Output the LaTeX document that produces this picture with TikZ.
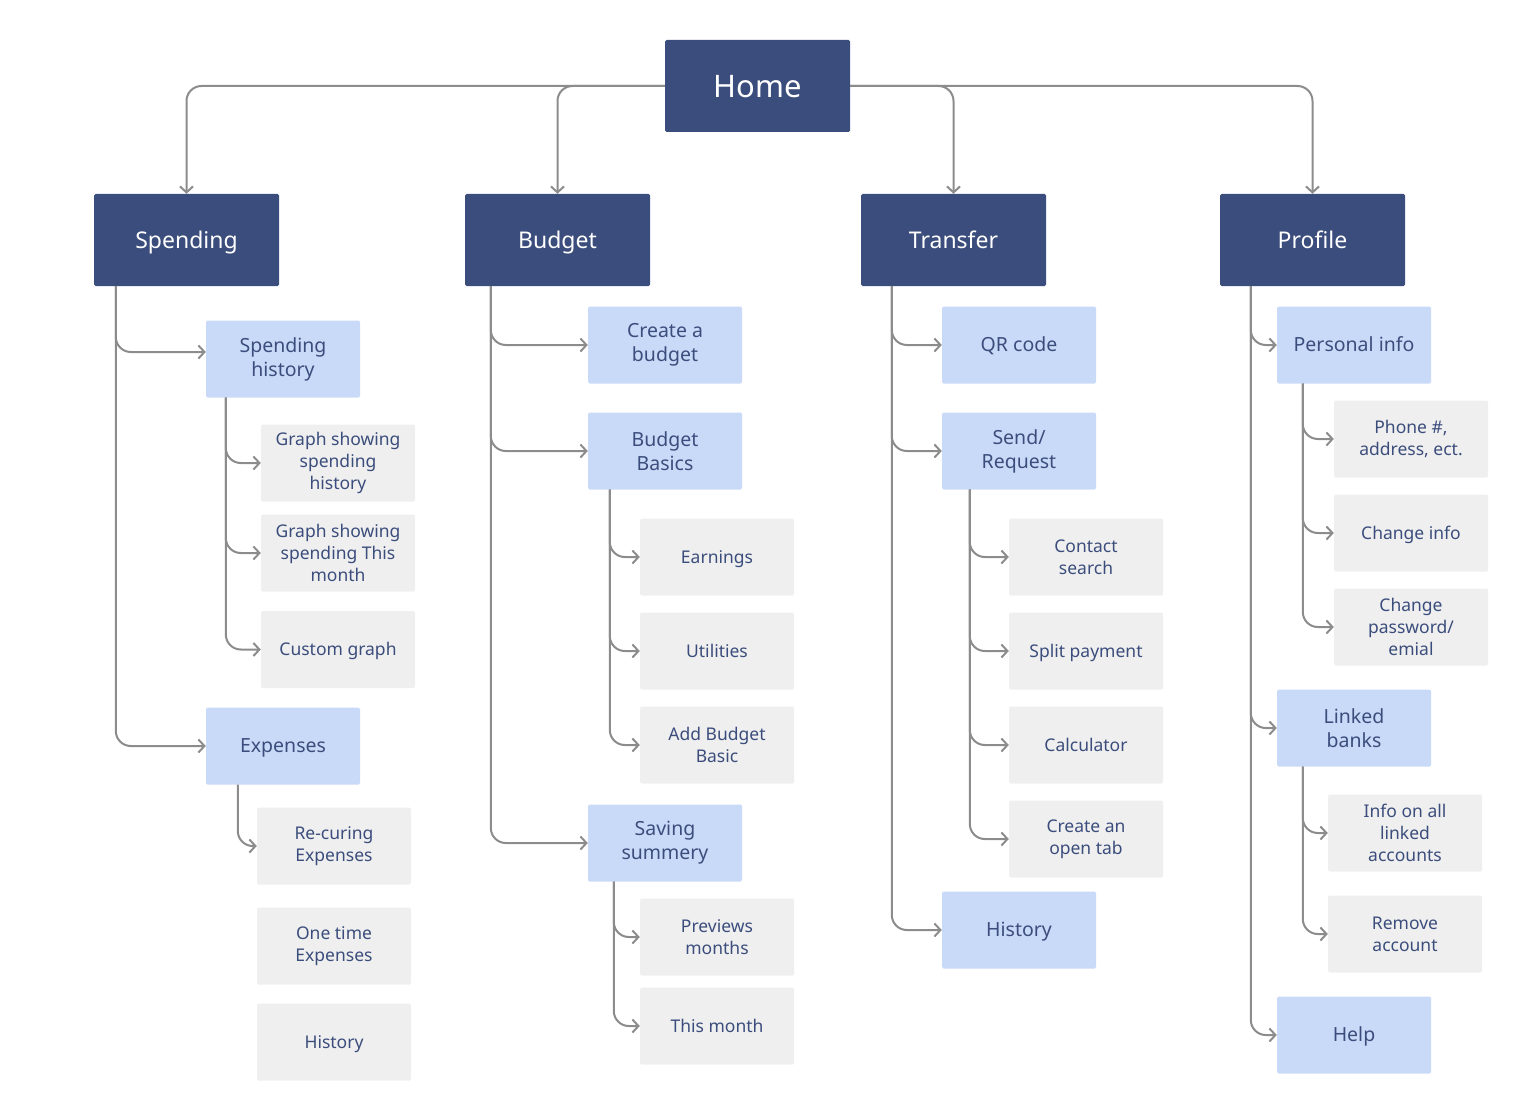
\documentclass[tikz,border=0pt]{standalone}
\usepackage{fontspec}
\setmainfont{Noto Sans}
\usetikzlibrary{arrows.meta}
\definecolor{navy}{HTML}{3B4D7C}
\definecolor{lblue}{HTML}{C9DAF8}
\definecolor{lgray}{HTML}{EFEFEF}
\definecolor{lineg}{HTML}{8C8C8C}
\tikzset{
  dark/.style={rectangle, rounded corners=1.5pt, fill=navy, text=white, minimum width=185pt, minimum height=92pt, inner sep=0pt, align=center, font=\fontsize{23}{28}\selectfont, text height=16.4pt, text depth=0pt},
  lite/.style={rectangle, rounded corners=1.5pt, fill=lblue, text=navy, minimum width=154pt, minimum height=77pt, inner sep=0pt, align=center, font=\fontsize{19.5}{24}\selectfont},
  grey/.style={rectangle, rounded corners=1.5pt, fill=lgray, text=navy, minimum width=154pt, minimum height=77pt, inner sep=0pt, align=center, font=\fontsize{17.5}{22}\selectfont},
  lone/.style={text height=13.9pt, text depth=0pt},
  gone/.style={text height=12.5pt, text depth=0pt},
  conn/.style={draw=lineg, line width=2pt, rounded corners=15pt, -{Straight Barb[length=6pt,width=13pt,line width=2pt]}},
}
\begin{document}
\begin{tikzpicture}[x=1pt,y=-1pt]
\useasboundingbox (0,0) rectangle (1515,1102);
% top level
\node[dark, font=\fontsize{31}{36}\selectfont, text height=22.1pt] (home) at (757.5,86) {Home};
\node[dark] (spend) at (186.5,240) {Spending};
\node[dark] (budget) at (557.5,240) {Budget};
\node[dark] (transfer) at (953.5,240) {Transfer};
\node[dark] (profile) at (1312.5,240) {Profile};
% spending
\node[lite] (sphist) at (283,359) {Spending\\history};
\node[grey] (g1) at (338,463) {Graph showing\\spending\\history};
\node[grey] (g2) at (338,553) {Graph showing\\spending This\\month};
\node[grey, gone] (g3) at (338,649.5) {Custom graph};
\node[lite, lone] (exp) at (283,746) {Expenses};
\node[grey] (e1) at (334,846) {Re-curing\\Expenses};
\node[grey] (e2) at (334,946) {One time\\Expenses};
\node[grey, gone] (e3) at (334,1042) {History};
% budget
\node[lite] (create) at (665,345) {Create a\\budget};
\node[lite] (basics) at (665,451) {Budget\\Basics};
\node[grey, gone] (b1) at (717,557) {Earnings};
\node[grey, gone] (b2) at (717,651) {Utilities};
\node[grey] (b3) at (717,745) {Add Budget\\Basic};
\node[lite] (saving) at (665,843) {Saving\\summery};
\node[grey] (s1) at (717,937) {Previews\\months};
\node[grey, gone] (s2) at (717,1026) {This month};
% transfer
\node[lite, lone] (qr) at (1019,345) {QR code};
\node[lite] (send) at (1019,451) {Send/\\Request};
\node[grey] (t1) at (1086,557) {Contact\\search};
\node[grey, gone] (t2) at (1086,651) {Split payment};
\node[grey, gone] (t3) at (1086,745) {Calculator};
\node[grey] (t4) at (1086,839) {Create an\\open tab};
\node[lite, lone] (thist) at (1019,930) {History};
% profile
\node[lite, lone] (pinfo) at (1354,345) {Personal info};
\node[grey] (p1) at (1411,439) {Phone \#,\\address, ect.};
\node[grey, gone] (p2) at (1411,533) {Change info};
\node[grey] (p3) at (1411,627) {Change\\password/\\emial};
\node[lite] (linked) at (1354,728) {Linked\\banks};
\node[grey] (l1) at (1405,833) {Info on all\\linked\\accounts};
\node[grey] (l2) at (1405,934) {Remove\\account};
\node[lite, lone] (help) at (1354,1035) {Help};
% top connectors
\draw[conn] (home.west) -| (spend.north);
\draw[conn] (home.west) -| (budget.north);
\draw[conn] (home.east) -| (transfer.north);
\draw[conn] (home.east) -| (profile.north);
% spending
\draw[conn] ([xshift=22pt]spend.south west) |- ([yshift=7pt]sphist.west);
\draw[conn] ([xshift=22pt]spend.south west) |- (exp.west);
\draw[conn] ([xshift=20pt]sphist.south west) |- (g1.west);
\draw[conn] ([xshift=20pt]sphist.south west) |- (g2.west);
\draw[conn] ([xshift=20pt]sphist.south west) |- (g3.west);
\draw[conn] ([xshift=32pt]exp.south west) |- (e1.west);
% budget
\draw[conn] ([xshift=26pt]budget.south west) |- (create.west);
\draw[conn] ([xshift=26pt]budget.south west) |- (basics.west);
\draw[conn] ([xshift=26pt]budget.south west) |- (saving.west);
\draw[conn] ([xshift=22pt]basics.south west) |- (b1.west);
\draw[conn] ([xshift=22pt]basics.south west) |- (b2.west);
\draw[conn] ([xshift=22pt]basics.south west) |- (b3.west);
\draw[conn] ([xshift=26pt]saving.south west) |- (s1.west);
\draw[conn] ([xshift=26pt]saving.south west) |- (s2.west);
% transfer
\draw[conn] ([xshift=31pt]transfer.south west) |- (qr.west);
\draw[conn] ([xshift=31pt]transfer.south west) |- (send.west);
\draw[conn] ([xshift=31pt]transfer.south west) |- (thist.west);
\draw[conn] ([xshift=28pt]send.south west) |- (t1.west);
\draw[conn] ([xshift=28pt]send.south west) |- (t2.west);
\draw[conn] ([xshift=28pt]send.south west) |- (t3.west);
\draw[conn] ([xshift=28pt]send.south west) |- (t4.west);
% profile
\draw[conn] ([xshift=31pt]profile.south west) |- (pinfo.west);
\draw[conn] ([xshift=31pt]profile.south west) |- (linked.west);
\draw[conn] ([xshift=31pt]profile.south west) |- (help.west);
\draw[conn] ([xshift=26pt]pinfo.south west) |- (p1.west);
\draw[conn] ([xshift=26pt]pinfo.south west) |- (p2.west);
\draw[conn] ([xshift=26pt]pinfo.south west) |- (p3.west);
\draw[conn] ([xshift=26pt]linked.south west) |- (l1.west);
\draw[conn] ([xshift=26pt]linked.south west) |- (l2.west);
\end{tikzpicture}
\end{document}
